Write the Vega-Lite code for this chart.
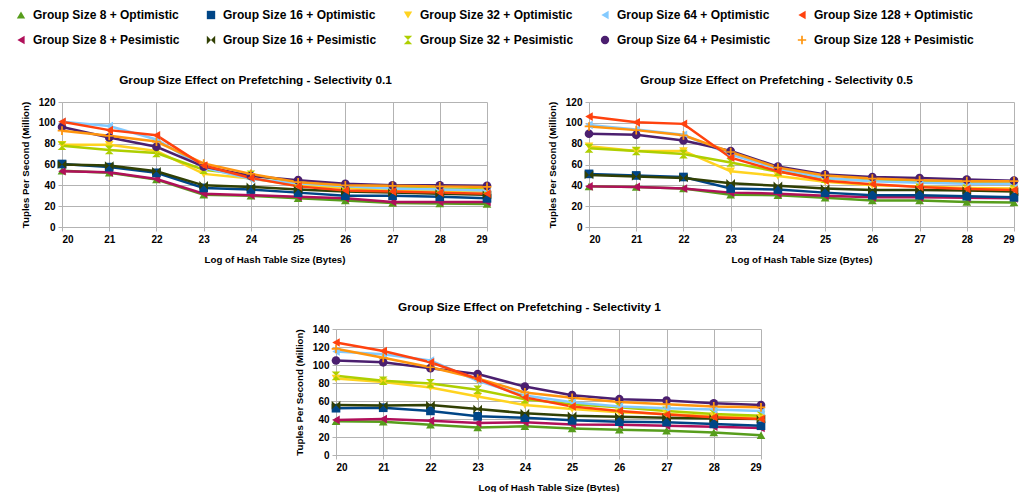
{
"$schema":"https://vega.github.io/schema/vega-lite/v6.json",
"padding":{"left":15,"top":9,"right":0,"bottom":0},
"background":"white",
"config":{
 "view":{"stroke":null},
 "font":"Liberation Sans",
 "title":{"fontSize":11.8,"fontWeight":"bold","color":"#000000","offset":10,"font":"Liberation Sans"},
 "axis":{"gridColor":"#b3b3b3","domainColor":"#b3b3b3","tickColor":"#b3b3b3","tickSize":4,"labelFont":"Liberation Sans","labelFontSize":10,"labelFontWeight":"bold","labelColor":"#000000","titleFont":"Liberation Sans","titleFontSize":9.7,"titleFontWeight":"bold","titleColor":"#000000","labelPadding":3},
 "axisX":{"titlePadding":10},
 "axisY":{"titlePadding":8},
 "legend":{"labelFont":"Liberation Sans","labelFontSize":12,"labelFontWeight":"bold","labelColor":"#000000"}
},
"datasets":{
"p1":[
{"g":"Group Size 8 + Optimistic","x":20,"y":54},{"g":"Group Size 8 + Optimistic","x":21,"y":52},{"g":"Group Size 8 + Optimistic","x":22,"y":45.5},{"g":"Group Size 8 + Optimistic","x":23,"y":31},{"g":"Group Size 8 + Optimistic","x":24,"y":30},{"g":"Group Size 8 + Optimistic","x":25,"y":27.5},{"g":"Group Size 8 + Optimistic","x":26,"y":25.5},{"g":"Group Size 8 + Optimistic","x":27,"y":23},{"g":"Group Size 8 + Optimistic","x":28,"y":22.5},{"g":"Group Size 8 + Optimistic","x":29,"y":22},
{"g":"Group Size 8 + Pesimistic","x":20,"y":53.5},{"g":"Group Size 8 + Pesimistic","x":21,"y":52.5},{"g":"Group Size 8 + Pesimistic","x":22,"y":46},{"g":"Group Size 8 + Pesimistic","x":23,"y":32},{"g":"Group Size 8 + Pesimistic","x":24,"y":30.5},{"g":"Group Size 8 + Pesimistic","x":25,"y":29},{"g":"Group Size 8 + Pesimistic","x":26,"y":27.5},{"g":"Group Size 8 + Pesimistic","x":27,"y":24},{"g":"Group Size 8 + Pesimistic","x":28,"y":24},{"g":"Group Size 8 + Pesimistic","x":29,"y":24},
{"g":"Group Size 16 + Optimistic","x":20,"y":60.5},{"g":"Group Size 16 + Optimistic","x":21,"y":57.5},{"g":"Group Size 16 + Optimistic","x":22,"y":52},{"g":"Group Size 16 + Optimistic","x":23,"y":37.5},{"g":"Group Size 16 + Optimistic","x":24,"y":36},{"g":"Group Size 16 + Optimistic","x":25,"y":33},{"g":"Group Size 16 + Optimistic","x":26,"y":30},{"g":"Group Size 16 + Optimistic","x":27,"y":30},{"g":"Group Size 16 + Optimistic","x":28,"y":29},{"g":"Group Size 16 + Optimistic","x":29,"y":27.5},
{"g":"Group Size 16 + Pesimistic","x":20,"y":60},{"g":"Group Size 16 + Pesimistic","x":21,"y":59},{"g":"Group Size 16 + Pesimistic","x":22,"y":53.5},{"g":"Group Size 16 + Pesimistic","x":23,"y":40},{"g":"Group Size 16 + Pesimistic","x":24,"y":38.5},{"g":"Group Size 16 + Pesimistic","x":25,"y":36},{"g":"Group Size 16 + Pesimistic","x":26,"y":34},{"g":"Group Size 16 + Pesimistic","x":27,"y":33},{"g":"Group Size 16 + Pesimistic","x":28,"y":32},{"g":"Group Size 16 + Pesimistic","x":29,"y":31},
{"g":"Group Size 32 + Optimistic","x":20,"y":79},{"g":"Group Size 32 + Optimistic","x":21,"y":79},{"g":"Group Size 32 + Optimistic","x":22,"y":73},{"g":"Group Size 32 + Optimistic","x":23,"y":51},{"g":"Group Size 32 + Optimistic","x":24,"y":46.5},{"g":"Group Size 32 + Optimistic","x":25,"y":40},{"g":"Group Size 32 + Optimistic","x":26,"y":37.5},{"g":"Group Size 32 + Optimistic","x":27,"y":35},{"g":"Group Size 32 + Optimistic","x":28,"y":34.5},{"g":"Group Size 32 + Optimistic","x":29,"y":34},
{"g":"Group Size 32 + Pesimistic","x":20,"y":78},{"g":"Group Size 32 + Pesimistic","x":21,"y":74},{"g":"Group Size 32 + Pesimistic","x":22,"y":71},{"g":"Group Size 32 + Pesimistic","x":23,"y":55},{"g":"Group Size 32 + Pesimistic","x":24,"y":50},{"g":"Group Size 32 + Pesimistic","x":25,"y":43},{"g":"Group Size 32 + Pesimistic","x":26,"y":39},{"g":"Group Size 32 + Pesimistic","x":27,"y":37.5},{"g":"Group Size 32 + Pesimistic","x":28,"y":37},{"g":"Group Size 32 + Pesimistic","x":29,"y":36},
{"g":"Group Size 64 + Optimistic","x":20,"y":101},{"g":"Group Size 64 + Optimistic","x":21,"y":97},{"g":"Group Size 64 + Optimistic","x":22,"y":84},{"g":"Group Size 64 + Optimistic","x":23,"y":57},{"g":"Group Size 64 + Optimistic","x":24,"y":46},{"g":"Group Size 64 + Optimistic","x":25,"y":42},{"g":"Group Size 64 + Optimistic","x":26,"y":39},{"g":"Group Size 64 + Optimistic","x":27,"y":37},{"g":"Group Size 64 + Optimistic","x":28,"y":36},{"g":"Group Size 64 + Optimistic","x":29,"y":35},
{"g":"Group Size 64 + Pesimistic","x":20,"y":96},{"g":"Group Size 64 + Pesimistic","x":21,"y":86},{"g":"Group Size 64 + Pesimistic","x":22,"y":77},{"g":"Group Size 64 + Pesimistic","x":23,"y":58},{"g":"Group Size 64 + Pesimistic","x":24,"y":49},{"g":"Group Size 64 + Pesimistic","x":25,"y":45},{"g":"Group Size 64 + Pesimistic","x":26,"y":41.5},{"g":"Group Size 64 + Pesimistic","x":27,"y":40},{"g":"Group Size 64 + Pesimistic","x":28,"y":40},{"g":"Group Size 64 + Pesimistic","x":29,"y":39.5},
{"g":"Group Size 128 + Pesimistic","x":20,"y":92.5},{"g":"Group Size 128 + Pesimistic","x":21,"y":87.5},{"g":"Group Size 128 + Pesimistic","x":22,"y":82},{"g":"Group Size 128 + Pesimistic","x":23,"y":61},{"g":"Group Size 128 + Pesimistic","x":24,"y":51},{"g":"Group Size 128 + Pesimistic","x":25,"y":43},{"g":"Group Size 128 + Pesimistic","x":26,"y":40},{"g":"Group Size 128 + Pesimistic","x":27,"y":39.5},{"g":"Group Size 128 + Pesimistic","x":28,"y":39},{"g":"Group Size 128 + Pesimistic","x":29,"y":38.5},
{"g":"Group Size 128 + Optimistic","x":20,"y":101},{"g":"Group Size 128 + Optimistic","x":21,"y":93},{"g":"Group Size 128 + Optimistic","x":22,"y":88},{"g":"Group Size 128 + Optimistic","x":23,"y":59},{"g":"Group Size 128 + Optimistic","x":24,"y":47},{"g":"Group Size 128 + Optimistic","x":25,"y":39},{"g":"Group Size 128 + Optimistic","x":26,"y":35},{"g":"Group Size 128 + Optimistic","x":27,"y":34},{"g":"Group Size 128 + Optimistic","x":28,"y":33},{"g":"Group Size 128 + Optimistic","x":29,"y":32}
],
"p2":[
{"g":"Group Size 8 + Optimistic","x":20,"y":39},{"g":"Group Size 8 + Optimistic","x":21,"y":38.5},{"g":"Group Size 8 + Optimistic","x":22,"y":37},{"g":"Group Size 8 + Optimistic","x":23,"y":31},{"g":"Group Size 8 + Optimistic","x":24,"y":30.5},{"g":"Group Size 8 + Optimistic","x":25,"y":28},{"g":"Group Size 8 + Optimistic","x":26,"y":25.5},{"g":"Group Size 8 + Optimistic","x":27,"y":25.5},{"g":"Group Size 8 + Optimistic","x":28,"y":24},{"g":"Group Size 8 + Optimistic","x":29,"y":23.5},
{"g":"Group Size 8 + Pesimistic","x":20,"y":39},{"g":"Group Size 8 + Pesimistic","x":21,"y":38.5},{"g":"Group Size 8 + Pesimistic","x":22,"y":37},{"g":"Group Size 8 + Pesimistic","x":23,"y":33},{"g":"Group Size 8 + Pesimistic","x":24,"y":32},{"g":"Group Size 8 + Pesimistic","x":25,"y":30},{"g":"Group Size 8 + Pesimistic","x":26,"y":28.5},{"g":"Group Size 8 + Pesimistic","x":27,"y":28.5},{"g":"Group Size 8 + Pesimistic","x":28,"y":28},{"g":"Group Size 8 + Pesimistic","x":29,"y":27.5},
{"g":"Group Size 16 + Optimistic","x":20,"y":51},{"g":"Group Size 16 + Optimistic","x":21,"y":49.5},{"g":"Group Size 16 + Optimistic","x":22,"y":48},{"g":"Group Size 16 + Optimistic","x":23,"y":37},{"g":"Group Size 16 + Optimistic","x":24,"y":36},{"g":"Group Size 16 + Optimistic","x":25,"y":33},{"g":"Group Size 16 + Optimistic","x":26,"y":30.5},{"g":"Group Size 16 + Optimistic","x":27,"y":30.5},{"g":"Group Size 16 + Optimistic","x":28,"y":29.5},{"g":"Group Size 16 + Optimistic","x":29,"y":28.5},
{"g":"Group Size 16 + Pesimistic","x":20,"y":50},{"g":"Group Size 16 + Pesimistic","x":21,"y":48.5},{"g":"Group Size 16 + Pesimistic","x":22,"y":47},{"g":"Group Size 16 + Pesimistic","x":23,"y":42},{"g":"Group Size 16 + Pesimistic","x":24,"y":39.5},{"g":"Group Size 16 + Pesimistic","x":25,"y":37},{"g":"Group Size 16 + Pesimistic","x":26,"y":35.5},{"g":"Group Size 16 + Pesimistic","x":27,"y":35.5},{"g":"Group Size 16 + Pesimistic","x":28,"y":35},{"g":"Group Size 16 + Pesimistic","x":29,"y":34},
{"g":"Group Size 32 + Optimistic","x":20,"y":77.5},{"g":"Group Size 32 + Optimistic","x":21,"y":73},{"g":"Group Size 32 + Optimistic","x":22,"y":73},{"g":"Group Size 32 + Optimistic","x":23,"y":53.5},{"g":"Group Size 32 + Optimistic","x":24,"y":49},{"g":"Group Size 32 + Optimistic","x":25,"y":43.5},{"g":"Group Size 32 + Optimistic","x":26,"y":40},{"g":"Group Size 32 + Optimistic","x":27,"y":39},{"g":"Group Size 32 + Optimistic","x":28,"y":37.5},{"g":"Group Size 32 + Optimistic","x":29,"y":37},
{"g":"Group Size 32 + Pesimistic","x":20,"y":75.5},{"g":"Group Size 32 + Pesimistic","x":21,"y":73},{"g":"Group Size 32 + Pesimistic","x":22,"y":70},{"g":"Group Size 32 + Pesimistic","x":23,"y":62},{"g":"Group Size 32 + Pesimistic","x":24,"y":53},{"g":"Group Size 32 + Pesimistic","x":25,"y":46.5},{"g":"Group Size 32 + Pesimistic","x":26,"y":44.5},{"g":"Group Size 32 + Pesimistic","x":27,"y":44},{"g":"Group Size 32 + Pesimistic","x":28,"y":43.5},{"g":"Group Size 32 + Pesimistic","x":29,"y":43},
{"g":"Group Size 64 + Optimistic","x":20,"y":98},{"g":"Group Size 64 + Optimistic","x":21,"y":93.5},{"g":"Group Size 64 + Optimistic","x":22,"y":88.5},{"g":"Group Size 64 + Optimistic","x":23,"y":69.5},{"g":"Group Size 64 + Optimistic","x":24,"y":56},{"g":"Group Size 64 + Optimistic","x":25,"y":47},{"g":"Group Size 64 + Optimistic","x":26,"y":44},{"g":"Group Size 64 + Optimistic","x":27,"y":42.5},{"g":"Group Size 64 + Optimistic","x":28,"y":41.5},{"g":"Group Size 64 + Optimistic","x":29,"y":41.5},
{"g":"Group Size 64 + Pesimistic","x":20,"y":89.5},{"g":"Group Size 64 + Pesimistic","x":21,"y":88.5},{"g":"Group Size 64 + Pesimistic","x":22,"y":83},{"g":"Group Size 64 + Pesimistic","x":23,"y":73},{"g":"Group Size 64 + Pesimistic","x":24,"y":58},{"g":"Group Size 64 + Pesimistic","x":25,"y":50.5},{"g":"Group Size 64 + Pesimistic","x":26,"y":48},{"g":"Group Size 64 + Pesimistic","x":27,"y":47},{"g":"Group Size 64 + Pesimistic","x":28,"y":45.5},{"g":"Group Size 64 + Pesimistic","x":29,"y":44.5},
{"g":"Group Size 128 + Pesimistic","x":20,"y":96.5},{"g":"Group Size 128 + Pesimistic","x":21,"y":93},{"g":"Group Size 128 + Pesimistic","x":22,"y":88},{"g":"Group Size 128 + Pesimistic","x":23,"y":72},{"g":"Group Size 128 + Pesimistic","x":24,"y":57},{"g":"Group Size 128 + Pesimistic","x":25,"y":49.5},{"g":"Group Size 128 + Pesimistic","x":26,"y":46.5},{"g":"Group Size 128 + Pesimistic","x":27,"y":45},{"g":"Group Size 128 + Pesimistic","x":28,"y":44},{"g":"Group Size 128 + Pesimistic","x":29,"y":44},
{"g":"Group Size 128 + Optimistic","x":20,"y":106},{"g":"Group Size 128 + Optimistic","x":21,"y":100.5},{"g":"Group Size 128 + Optimistic","x":22,"y":99},{"g":"Group Size 128 + Optimistic","x":23,"y":66.5},{"g":"Group Size 128 + Optimistic","x":24,"y":53.5},{"g":"Group Size 128 + Optimistic","x":25,"y":44.5},{"g":"Group Size 128 + Optimistic","x":26,"y":41},{"g":"Group Size 128 + Optimistic","x":27,"y":38.5},{"g":"Group Size 128 + Optimistic","x":28,"y":36.5},{"g":"Group Size 128 + Optimistic","x":29,"y":35.5}
],
"p3":[
{"g":"Group Size 8 + Optimistic","x":20,"y":37.5},{"g":"Group Size 8 + Optimistic","x":21,"y":37},{"g":"Group Size 8 + Optimistic","x":22,"y":33.5},{"g":"Group Size 8 + Optimistic","x":23,"y":30.5},{"g":"Group Size 8 + Optimistic","x":24,"y":32},{"g":"Group Size 8 + Optimistic","x":25,"y":29.5},{"g":"Group Size 8 + Optimistic","x":26,"y":28},{"g":"Group Size 8 + Optimistic","x":27,"y":27},{"g":"Group Size 8 + Optimistic","x":28,"y":25},{"g":"Group Size 8 + Optimistic","x":29,"y":22},
{"g":"Group Size 8 + Pesimistic","x":20,"y":39},{"g":"Group Size 8 + Pesimistic","x":21,"y":40},{"g":"Group Size 8 + Pesimistic","x":22,"y":38},{"g":"Group Size 8 + Pesimistic","x":23,"y":35.5},{"g":"Group Size 8 + Pesimistic","x":24,"y":36.5},{"g":"Group Size 8 + Pesimistic","x":25,"y":34},{"g":"Group Size 8 + Pesimistic","x":26,"y":33.5},{"g":"Group Size 8 + Pesimistic","x":27,"y":32.5},{"g":"Group Size 8 + Pesimistic","x":28,"y":31.5},{"g":"Group Size 8 + Pesimistic","x":29,"y":30},
{"g":"Group Size 16 + Optimistic","x":20,"y":52},{"g":"Group Size 16 + Optimistic","x":21,"y":52.5},{"g":"Group Size 16 + Optimistic","x":22,"y":49},{"g":"Group Size 16 + Optimistic","x":23,"y":43},{"g":"Group Size 16 + Optimistic","x":24,"y":41.5},{"g":"Group Size 16 + Optimistic","x":25,"y":38.5},{"g":"Group Size 16 + Optimistic","x":26,"y":37},{"g":"Group Size 16 + Optimistic","x":27,"y":36.5},{"g":"Group Size 16 + Optimistic","x":28,"y":34.5},{"g":"Group Size 16 + Optimistic","x":29,"y":32.5},
{"g":"Group Size 16 + Pesimistic","x":20,"y":55.5},{"g":"Group Size 16 + Pesimistic","x":21,"y":55},{"g":"Group Size 16 + Pesimistic","x":22,"y":55.5},{"g":"Group Size 16 + Pesimistic","x":23,"y":51},{"g":"Group Size 16 + Pesimistic","x":24,"y":46.5},{"g":"Group Size 16 + Pesimistic","x":25,"y":43.5},{"g":"Group Size 16 + Pesimistic","x":26,"y":42.5},{"g":"Group Size 16 + Pesimistic","x":27,"y":41.5},{"g":"Group Size 16 + Pesimistic","x":28,"y":40.5},{"g":"Group Size 16 + Pesimistic","x":29,"y":40},
{"g":"Group Size 32 + Optimistic","x":20,"y":85},{"g":"Group Size 32 + Optimistic","x":21,"y":81},{"g":"Group Size 32 + Optimistic","x":22,"y":75},{"g":"Group Size 32 + Optimistic","x":23,"y":65},{"g":"Group Size 32 + Optimistic","x":24,"y":55.5},{"g":"Group Size 32 + Optimistic","x":25,"y":51},{"g":"Group Size 32 + Optimistic","x":26,"y":47.5},{"g":"Group Size 32 + Optimistic","x":27,"y":45.5},{"g":"Group Size 32 + Optimistic","x":28,"y":43},{"g":"Group Size 32 + Optimistic","x":29,"y":41.5},
{"g":"Group Size 32 + Pesimistic","x":20,"y":88},{"g":"Group Size 32 + Pesimistic","x":21,"y":82.5},{"g":"Group Size 32 + Pesimistic","x":22,"y":79.5},{"g":"Group Size 32 + Pesimistic","x":23,"y":72.5},{"g":"Group Size 32 + Pesimistic","x":24,"y":62},{"g":"Group Size 32 + Pesimistic","x":25,"y":56.5},{"g":"Group Size 32 + Pesimistic","x":26,"y":53},{"g":"Group Size 32 + Pesimistic","x":27,"y":49},{"g":"Group Size 32 + Pesimistic","x":28,"y":45.5},{"g":"Group Size 32 + Pesimistic","x":29,"y":43.5},
{"g":"Group Size 64 + Optimistic","x":20,"y":115},{"g":"Group Size 64 + Optimistic","x":21,"y":112},{"g":"Group Size 64 + Optimistic","x":22,"y":105},{"g":"Group Size 64 + Optimistic","x":23,"y":82.5},{"g":"Group Size 64 + Optimistic","x":24,"y":66},{"g":"Group Size 64 + Optimistic","x":25,"y":58.5},{"g":"Group Size 64 + Optimistic","x":26,"y":54},{"g":"Group Size 64 + Optimistic","x":27,"y":52},{"g":"Group Size 64 + Optimistic","x":28,"y":50.5},{"g":"Group Size 64 + Optimistic","x":29,"y":49},
{"g":"Group Size 64 + Pesimistic","x":20,"y":105},{"g":"Group Size 64 + Pesimistic","x":21,"y":103},{"g":"Group Size 64 + Pesimistic","x":22,"y":96.5},{"g":"Group Size 64 + Pesimistic","x":23,"y":90},{"g":"Group Size 64 + Pesimistic","x":24,"y":76},{"g":"Group Size 64 + Pesimistic","x":25,"y":66.5},{"g":"Group Size 64 + Pesimistic","x":26,"y":62},{"g":"Group Size 64 + Pesimistic","x":27,"y":60.5},{"g":"Group Size 64 + Pesimistic","x":28,"y":57.5},{"g":"Group Size 64 + Pesimistic","x":29,"y":55.5},
{"g":"Group Size 128 + Pesimistic","x":20,"y":118},{"g":"Group Size 128 + Pesimistic","x":21,"y":108},{"g":"Group Size 128 + Pesimistic","x":22,"y":97.5},{"g":"Group Size 128 + Pesimistic","x":23,"y":85},{"g":"Group Size 128 + Pesimistic","x":24,"y":69.5},{"g":"Group Size 128 + Pesimistic","x":25,"y":63.5},{"g":"Group Size 128 + Pesimistic","x":26,"y":59},{"g":"Group Size 128 + Pesimistic","x":27,"y":56.5},{"g":"Group Size 128 + Pesimistic","x":28,"y":54},{"g":"Group Size 128 + Pesimistic","x":29,"y":53},
{"g":"Group Size 128 + Optimistic","x":20,"y":125},{"g":"Group Size 128 + Optimistic","x":21,"y":115.5},{"g":"Group Size 128 + Optimistic","x":22,"y":103},{"g":"Group Size 128 + Optimistic","x":23,"y":84.5},{"g":"Group Size 128 + Optimistic","x":24,"y":64},{"g":"Group Size 128 + Optimistic","x":25,"y":54},{"g":"Group Size 128 + Optimistic","x":26,"y":49},{"g":"Group Size 128 + Optimistic","x":27,"y":45},{"g":"Group Size 128 + Optimistic","x":28,"y":42},{"g":"Group Size 128 + Optimistic","x":29,"y":40}
]
},
"vconcat":[
 {"hconcat":[
  {"width":425,"height":125,"data":{"name":"p1"},
   "title":{"text":"Group Size Effect on Prefetching - Selectivity 0.1","dx":-19},
   "encoding":{
    "x":{"field":"x","type":"quantitative","scale":{"domain":[20,29],"nice":false,"zero":false},"axis":{"values":[20,21,22,23,24,25,26,27,28,29],"format":"d","title":"Log of Hash Table Size (Bytes)"}},
    "y":{"field":"y","type":"quantitative","scale":{"domain":[0,120]},"axis":{"values":[0,20,40,60,80,100,120],"title":"Tuples Per Second (Million)"}},
    "color":{"field":"g","type":"nominal","scale":{"domain":["Group Size 8 + Optimistic","Group Size 16 + Optimistic","Group Size 32 + Optimistic","Group Size 64 + Optimistic","Group Size 128 + Optimistic","Group Size 8 + Pesimistic","Group Size 16 + Pesimistic","Group Size 32 + Pesimistic","Group Size 64 + Pesimistic","Group Size 128 + Pesimistic"],"range":["#579d1c","#004586","#ffd320","#83caff","#ff420e","#b0105a","#314004","#aecf00","#4b1f6f","#ff950e"]},
      "legend":{"orient":"none","legendX":-47,"legendY":-93,"columns":5,"direction":"horizontal","title":null,"symbolSize":70,"symbolStrokeWidth":0,"labelOffset":6,"columnPadding":25,"rowPadding":13}}
   },
   "layer":[
    {"mark":{"type":"line","strokeWidth":2.5}},
    {"mark":{"type":"point","filled":true,"size":75,"opacity":1},
     "encoding":{"shape":{"field":"g","type":"nominal","scale":{"domain":["Group Size 8 + Optimistic","Group Size 16 + Optimistic","Group Size 32 + Optimistic","Group Size 64 + Optimistic","Group Size 128 + Optimistic","Group Size 8 + Pesimistic","Group Size 16 + Pesimistic","Group Size 32 + Pesimistic","Group Size 64 + Pesimistic","Group Size 128 + Pesimistic"],"range":["triangle-up","square","triangle-down","triangle-left","triangle-left","triangle-left","M-1,-1L0,0L-1,1Z M1,1L0,0L1,-1Z","M-1,-1L1,-1L0,0Z M1,1L-1,1L0,0Z","circle","M-1,-0.2L1,-0.2L1,0.2L-1,0.2Z M-0.2,-1L0.2,-1L0.2,1L-0.2,1Z"]}}}}
   ]},
  {"width":425,"height":125,"data":{"name":"p2"},
   "title":{"text":"Group Size Effect on Prefetching - Selectivity 0.5","dx":-25},
   "encoding":{
    "x":{"field":"x","type":"quantitative","scale":{"domain":[20,29],"nice":false,"zero":false},"axis":{"values":[20,21,22,23,24,25,26,27,28,29],"format":"d","title":"Log of Hash Table Size (Bytes)"}},
    "y":{"field":"y","type":"quantitative","scale":{"domain":[0,120]},"axis":{"values":[0,20,40,60,80,100,120],"title":"Tuples Per Second (Million)"}},
    "color":{"field":"g","type":"nominal"}
   },
   "layer":[
    {"mark":{"type":"line","strokeWidth":2.5}},
    {"mark":{"type":"point","filled":true,"size":75,"opacity":1},"encoding":{"shape":{"field":"g","type":"nominal"}}}
   ]}
 ],"spacing":55},
 {"hconcat":[
  {"width":212,"height":10,"data":{"values":[{}]},"mark":{"type":"text","text":""},"encoding":{}},
  {"width":425,"height":126,"data":{"name":"p3"},
   "title":{"text":"Group Size Effect on Prefetching - Selectivity 1","dx":-19},
   "encoding":{
    "x":{"field":"x","type":"quantitative","scale":{"domain":[20,29],"nice":false,"zero":false},"axis":{"values":[20,21,22,23,24,25,26,27,28,29],"format":"d","title":"Log of Hash Table Size (Bytes)"}},
    "y":{"field":"y","type":"quantitative","scale":{"domain":[0,140]},"axis":{"values":[0,20,40,60,80,100,120,140],"title":"Tuples Per Second (Million)"}},
    "color":{"field":"g","type":"nominal"}
   },
   "layer":[
    {"mark":{"type":"line","strokeWidth":2.5}},
    {"mark":{"type":"point","filled":true,"size":75,"opacity":1},"encoding":{"shape":{"field":"g","type":"nominal"}}}
   ]}
 ],"spacing":20}
],
"spacing":38
}
